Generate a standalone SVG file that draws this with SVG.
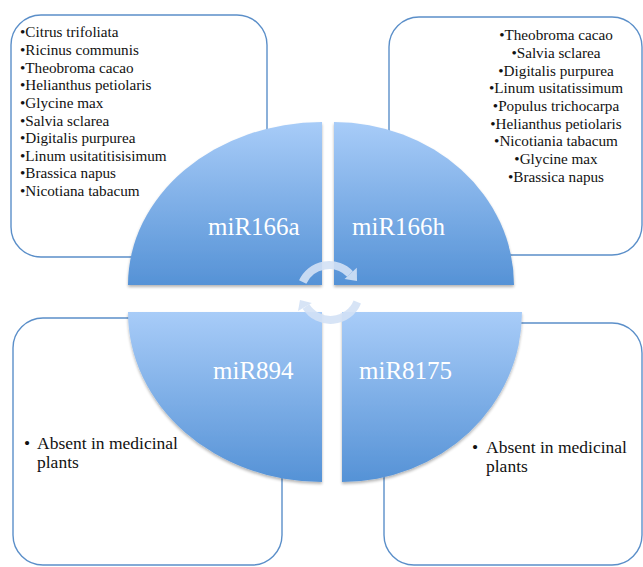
<svg xmlns="http://www.w3.org/2000/svg" width="643" height="567" viewBox="0 0 643 567">
<style>
.box{fill:#fff;stroke:#5b8fc9;stroke-width:1.4}
.t{font-family:"Liberation Serif","Times New Roman",serif;font-size:15.2px;fill:#111}
.tc{font-family:"Liberation Serif","Times New Roman",serif;font-size:15.2px;fill:#111;text-anchor:middle}
.tb{font-family:"Liberation Serif","Times New Roman",serif;font-size:17.5px;fill:#111}
.lab{font-family:"Liberation Serif","Times New Roman",serif;font-size:25px;fill:#fff}
.q{stroke:none;filter:url(#sh)}
.arc{fill:none;stroke:#d3e1f5;stroke-width:8;opacity:0.9}
.ah{fill:#d3e1f5;opacity:0.9}
</style>
<defs>
<linearGradient id="g" x1="0" y1="0" x2="0" y2="1">
<stop offset="0" stop-color="#a8ccf8"/>
<stop offset="1" stop-color="#5592d6"/>
</linearGradient>
<filter id="sh" x="-10%" y="-10%" width="120%" height="125%">
<feGaussianBlur in="SourceAlpha" stdDeviation="1.5"/>
<feOffset dx="0" dy="2" result="b"/>
<feComponentTransfer><feFuncA type="linear" slope="0.3"/></feComponentTransfer>
<feMerge><feMergeNode/><feMergeNode in="SourceGraphic"/></feMerge>
</filter>
</defs>
<rect width="643" height="567" fill="#fff"/>

<g id="box-tl">
<rect class="box" x="11" y="15" width="256" height="242" rx="30"/>
<text class="t" x="20" y="37">•Citrus trifoliata</text>
<text class="t" x="20" y="54.5">•Ricinus communis</text>
<text class="t" x="20" y="72.5">•Theobroma cacao</text>
<text class="t" x="20" y="90">•Helianthus petiolaris</text>
<text class="t" x="20" y="107.5">•Glycine max</text>
<text class="t" x="20" y="125.5">•Salvia sclarea</text>
<text class="t" x="20" y="143">•Digitalis purpurea</text>
<text class="t" x="20" y="160.5">•Linum usitatitisisimum</text>
<text class="t" x="20" y="178">•Brassica napus</text>
<text class="t" x="20" y="196">•Nicotiana tabacum</text>
</g>

<g id="box-tr">
<rect class="box" x="389" y="17" width="253" height="238" rx="30"/>
<text class="tc" x="556" y="40">•Theobroma cacao</text>
<text class="tc" x="556" y="57.5">•Salvia sclarea</text>
<text class="tc" x="556" y="75.5">•Digitalis purpurea</text>
<text class="tc" x="556" y="93">•Linum usitatissimum</text>
<text class="tc" x="556" y="110.5">•Populus trichocarpa</text>
<text class="tc" x="556" y="128.5">•Helianthus petiolaris</text>
<text class="tc" x="556" y="146">•Nicotiania tabacum</text>
<text class="tc" x="556" y="164">•Glycine max</text>
<text class="tc" x="556" y="181.5">•Brassica napus</text>
</g>

<g id="box-bl">
<rect class="box" x="13" y="318" width="269" height="247" rx="30"/>
<text class="tb" y="448.5"><tspan x="24">•</tspan><tspan x="37">Absent in medicinal</tspan><tspan x="37" dy="19">plants</tspan></text>
</g>

<g id="box-br">
<rect class="box" x="384" y="323" width="258" height="242" rx="30"/>
<text class="tb" y="452.5"><tspan x="472">•</tspan><tspan x="486">Absent in medicinal</tspan><tspan x="486" dy="19">plants</tspan></text>
</g>

<g id="q-miR166a">
<path class="q" fill="url(#g)" d="M322,285 L128,285 A194,163 0 0 1 322,122 Z"/>
<text class="lab" x="208" y="235">miR166a</text>
</g>
<g id="q-miR166h">
<path class="q" fill="url(#g)" d="M334,285 L334,122 A180,163 0 0 1 514,285 Z"/>
<text class="lab" x="352" y="235">miR166h</text>
</g>
<g id="q-miR894">
<path class="q" fill="url(#g)" d="M322,312 L322,482 A194,170 0 0 1 128,312 Z"/>
<text class="lab" x="213" y="379">miR894</text>
</g>
<g id="q-miR8175">
<path class="q" fill="url(#g)" d="M342,312 L522,312 A180,170 0 0 1 342,482 Z"/>
<text class="lab" x="359" y="379">miR8175</text>
</g>

<g id="connectors">
<path class="arc" d="M302.7,282 A29,29 0 0 1 350,274"/>
<polygon class="ah" points="357,281 356.8,267.8 344.5,279"/>
<path class="arc" d="M357.3,301.9 A29,29 0 0 1 306,306.5"/>
<polygon class="ah" points="300,300 298,311 311.8,303"/>
</g>
</svg>
